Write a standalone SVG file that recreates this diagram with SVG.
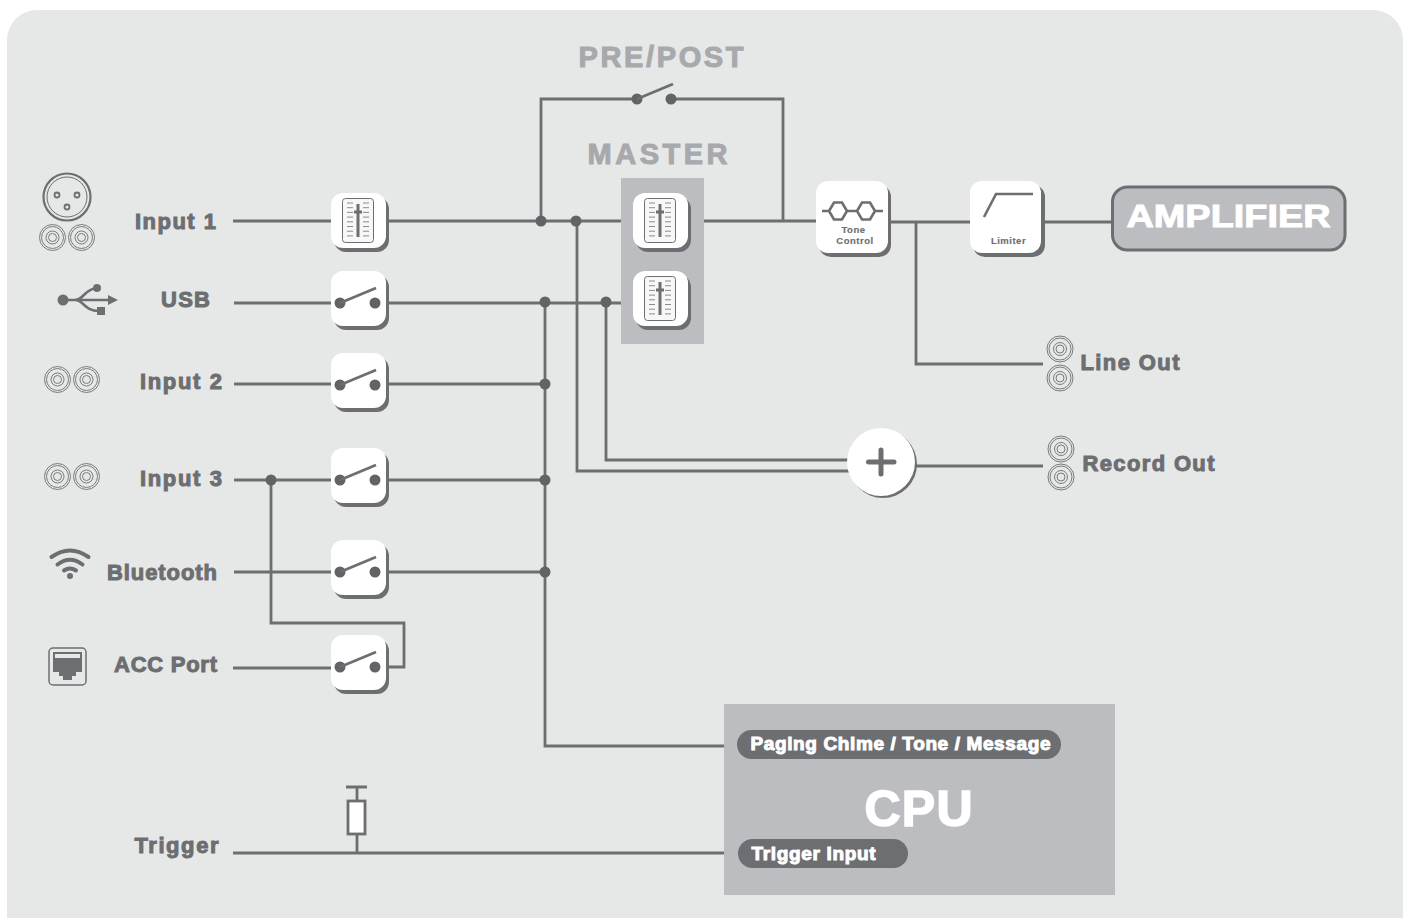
<svg xmlns="http://www.w3.org/2000/svg" xmlns:xlink="http://www.w3.org/1999/xlink" width="1407" height="918" viewBox="0 0 1407 918">
<style>
.w{fill:none;stroke:#6d6e71;stroke-width:2.8}
.dot{fill:#626366}
.t{font-family:"Liberation Sans",Arial,sans-serif;font-weight:700;fill:#6d6e71;stroke:#6d6e71;stroke-width:1;paint-order:stroke}
.h{fill:#a7a9ac;stroke:#a7a9ac;stroke-width:1}
.l{fill:#fff;stroke:#fff;stroke-width:1}
.s{stroke-width:.15;letter-spacing:.5px}
.tile{fill:#fff}
.sh{fill:#6d6e71}
.r{fill:none;stroke:#6d6e71;stroke-width:.9}
.ic{fill:none;stroke:#6d6e71;stroke-width:2.600}
</style>
<defs>
<g id="rca">
<circle r="13" class="r"/><circle r="11" class="r"/><circle r="6.500" class="r"/><circle r="4" class="r"/>
</g>
<g id="fader">
<rect x="3" y="4" width="55" height="55" rx="12" class="sh"/>
<rect width="55" height="55" rx="12" class="tile"/>
<rect x="11.500" y="5.500" width="31" height="44" rx="3" fill="#f7f7f7" stroke="#6d6e71" stroke-width="1"/>
<path d="M16 10h6M32 10h6M16 14.700h6M32 14.700h6M16 19.400h6M32 19.400h6M16 24.100h6M32 24.100h6M16 28.800h6M32 28.800h6M16 33.500h6M32 33.500h6M16 38.200h6M32 38.200h6M16 42.900h6M32 42.900h6" stroke="#8a8c8e" stroke-width="1" fill="none"/>
<rect x="25.500" y="11" width="3" height="33" fill="#6d6e71"/>
<rect x="23" y="17.500" width="8" height="3" fill="#6d6e71"/>
</g>
<g id="switch">
<rect x="3" y="4" width="55" height="55" rx="12" class="sh"/>
<rect width="55" height="55" rx="12" class="tile"/>
<circle cx="9" cy="32" r="5.500" class="dot"/><circle cx="44" cy="32" r="5.500" class="dot"/>
<path d="M9 32L45 17" stroke="#6d6e71" stroke-width="2.800" fill="none"/>
</g>
</defs>

<rect id="background" x="7" y="10" width="1396" height="940" rx="30" fill="#e6e8e7"/>

<g id="connectors">
<path class="w" d="M233 221H331M386 221H621M541 221V99H637M671 99H783V221M704 221H816M888 222H970M1041 222H1112M916 222V364H1043"/>
<path class="w" d="M234 303H331M386 303H621M234 384H331M386 384H545M234 480H331M386 480H545M234 572H331M386 572H545M233 668H331"/>
<path class="w" d="M271 480V623H404V667H386"/>
<path class="w" d="M545 302V746H724M577 221V471H850M606 302V460H850M915 466H1043"/>
<path class="w" d="M233 853H724M357 853V834M357 800V787M346 787H367"/>
<g class="dot">
<circle cx="541" cy="221" r="5.500"/><circle cx="576" cy="221" r="5.500"/><circle cx="545" cy="302" r="5.500"/><circle cx="606" cy="302" r="5.500"/>
<circle cx="545" cy="384" r="5.500"/><circle cx="545" cy="480" r="5.500"/><circle cx="545" cy="572" r="5.500"/><circle cx="271" cy="480" r="5.500"/>
</g>
</g>

<g id="pre-post">
<text class="t h" x="578.500" y="67" font-size="29" textLength="165" lengthAdjust="spacing">PRE/POST</text>
<circle cx="637" cy="99" r="5.500" class="dot"/><circle cx="671" cy="99" r="5.500" class="dot"/>
<path d="M637 99L673 84" stroke="#6d6e71" stroke-width="2.800" fill="none"/>
</g>

<g id="master">
<text class="t h" x="587.500" y="164" font-size="29" textLength="140" lengthAdjust="spacing">MASTER</text>
<rect x="621" y="178" width="83" height="166" fill="#bcbdc0"/>
<use xlink:href="#fader" href="#fader" x="633" y="193"/>
<use xlink:href="#fader" href="#fader" x="633" y="271"/>
</g>

<g id="input-1">
<circle cx="67" cy="197" r="23.500" fill="none" stroke="#6d6e71" stroke-width="2.200"/>
<circle cx="67" cy="197" r="20" fill="none" stroke="#6d6e71" stroke-width="1"/>
<circle cx="57" cy="195" r="2.500" fill="none" stroke="#6d6e71" stroke-width="1.800"/>
<circle cx="77" cy="195" r="2.500" fill="none" stroke="#6d6e71" stroke-width="1.800"/>
<circle cx="67" cy="207" r="2.500" fill="none" stroke="#6d6e71" stroke-width="1.800"/>
<use xlink:href="#rca" href="#rca" x="52.500" y="237.500"/><use xlink:href="#rca" href="#rca" x="81.500" y="237.500"/>
<text class="t" x="135" y="229" font-size="22" textLength="81" lengthAdjust="spacing">Input 1</text>
<use xlink:href="#fader" href="#fader" x="331" y="193"/>
</g>

<g id="usb">
<circle cx="63" cy="300" r="5.500" fill="#6d6e71"/>
<path class="ic" d="M63 300H110M75 300C84 300 84 289 97 288M75 300C84 300 84 311 99 311"/>
<path d="M108 295L118 300L108 305Z" fill="#6d6e71"/>
<circle cx="97" cy="288" r="4" fill="#6d6e71"/>
<rect x="97" y="307" width="8" height="8" fill="#6d6e71"/>
<text class="t" x="161" y="307" font-size="22" textLength="49" lengthAdjust="spacing">USB</text>
<use xlink:href="#switch" href="#switch" x="331" y="271"/>
</g>

<g id="input-2">
<use xlink:href="#rca" href="#rca" x="57.500" y="379.500"/><use xlink:href="#rca" href="#rca" x="86.500" y="379.500"/>
<text class="t" x="140" y="389" font-size="22" textLength="82" lengthAdjust="spacing">Input 2</text>
<use xlink:href="#switch" href="#switch" x="331" y="353"/>
</g>

<g id="input-3">
<use xlink:href="#rca" href="#rca" x="57.500" y="476.500"/><use xlink:href="#rca" href="#rca" x="86.500" y="476.500"/>
<text class="t" x="140" y="486" font-size="22" textLength="82" lengthAdjust="spacing">Input 3</text>
<use xlink:href="#switch" href="#switch" x="331" y="448"/>
</g>

<g id="bluetooth">
<path d="M51.500 557Q70 544 88.500 557M57.500 564.500Q70 555 82.500 564.500M64 570.500Q70 566.500 76 570.500" fill="none" stroke="#6d6e71" stroke-width="4" stroke-linecap="round"/>
<circle cx="70" cy="576" r="3" fill="#6d6e71"/>
<text class="t" x="107" y="580" font-size="22" textLength="110" lengthAdjust="spacing">Bluetooth</text>
<use xlink:href="#switch" href="#switch" x="331" y="540"/>
</g>

<g id="acc-port">
<rect x="49" y="648" width="37" height="37" rx="4" fill="none" stroke="#6d6e71" stroke-width="1.500"/>
<path d="M53 652H82V672H76V676H72V680H63V676H59V672H53Z" fill="#6d6e71"/>
<rect x="55" y="654" width="25" height="4" fill="#e6e8e7"/>
<text class="t" x="114" y="672" font-size="22" textLength="103" lengthAdjust="spacing">ACC Port</text>
<use xlink:href="#switch" href="#switch" x="331" y="635"/>
</g>

<g id="tone-control">
<rect x="819" y="185" width="72" height="72" rx="12" class="sh"/>
<rect x="816" y="181" width="72" height="72" rx="12" class="tile"/>
<path class="ic" d="M822 211H829M847 211H857M875 211H883M829 211L834 202.500H842L847 211L842 219.500H834ZM857 211L862 202.500H870L875 211L870 219.500H862Z"/>
<text class="t s" x="853.500" y="233" font-size="9.500" text-anchor="middle">Tone</text>
<text class="t s" x="855" y="244" font-size="9.500" text-anchor="middle">Control</text>
</g>

<g id="limiter">
<rect x="973" y="185" width="72" height="72" rx="12" class="sh"/>
<rect x="970" y="181" width="71" height="72" rx="12" class="tile"/>
<path class="ic" d="M984 217L996 194H1033"/>
<text class="t s" x="1008.500" y="244" font-size="9.500" text-anchor="middle">Limiter</text>
</g>

<g id="amplifier">
<rect x="1112.500" y="187" width="232.500" height="63" rx="15" fill="#bcbdc0" stroke="#6d6e71" stroke-width="3"/>
<text class="t l" x="1126.500" y="227" font-size="32" textLength="204" lengthAdjust="spacingAndGlyphs">AMPLIFIER</text>
</g>

<g id="line-out">
<use xlink:href="#rca" href="#rca" x="1060" y="349"/><use xlink:href="#rca" href="#rca" x="1060" y="378"/>
<text class="t" x="1080.500" y="370" font-size="22" textLength="99" lengthAdjust="spacing">Line Out</text>
</g>

<g id="mixer">
<circle cx="883" cy="464" r="34" class="sh"/>
<circle cx="881" cy="462" r="34" class="tile"/>
<path d="M881 450V474M868.500 462H894" stroke="#6d6e71" stroke-width="5" stroke-linecap="round" fill="none"/>
</g>

<g id="record-out">
<use xlink:href="#rca" href="#rca" x="1061" y="449"/><use xlink:href="#rca" href="#rca" x="1061" y="477"/>
<text class="t" x="1082.500" y="471" font-size="22" textLength="132" lengthAdjust="spacing">Record Out</text>
</g>

<g id="cpu">
<rect x="724" y="704" width="391" height="191" fill="#bcbdc0"/>
<rect x="737" y="730" width="324" height="29" rx="14.500" fill="#6d6e71"/>
<text class="t l" x="750.500" y="750" font-size="19" textLength="300" lengthAdjust="spacing">Paging Chime / Tone / Message</text>
<text class="t l" x="864.500" y="826" font-size="50" style="stroke-width:1.600px" textLength="108" lengthAdjust="spacing">CPU</text>
<rect x="738" y="839" width="170" height="29" rx="14.500" fill="#6d6e71"/>
<text class="t l" x="751.500" y="860" font-size="19" textLength="124" lengthAdjust="spacing">Trigger Input</text>
</g>

<g id="trigger">
<text class="t" x="134.500" y="853" font-size="22" textLength="84" lengthAdjust="spacing">Trigger</text>
<rect x="348" y="801" width="17" height="33" fill="#fff" stroke="#6d6e71" stroke-width="2.800"/>
</g>
</svg>
